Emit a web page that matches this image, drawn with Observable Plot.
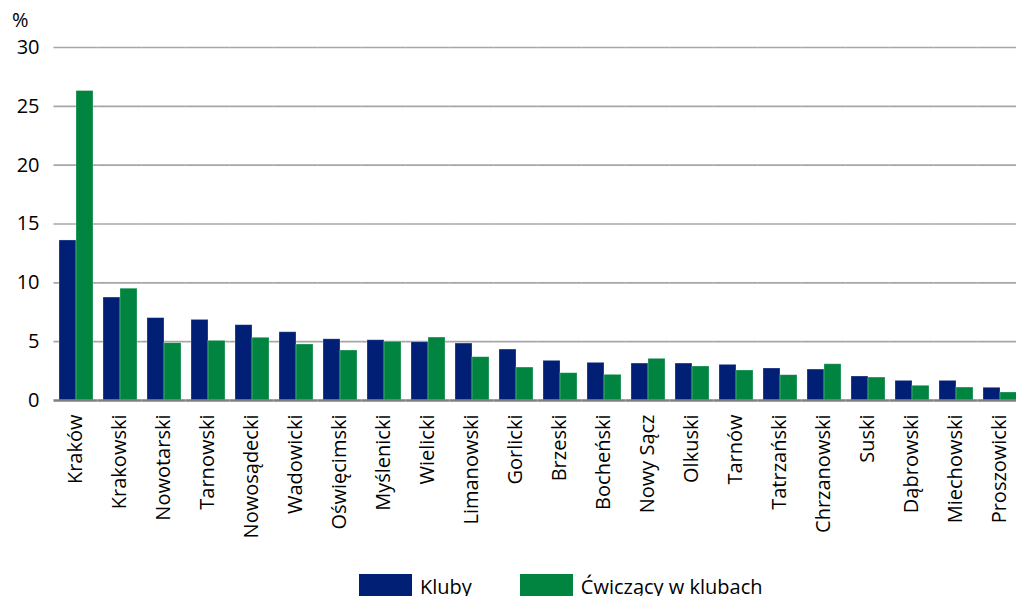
<!DOCTYPE html>
<html>
<head>
<meta charset="utf-8">
<script src="https://cdn.jsdelivr.net/npm/d3@7"></script>
<script src="https://cdn.jsdelivr.net/npm/@observablehq/plot@0.6"></script>
<style>
  html, body { margin: 0; padding: 0; background: #fff; overflow: hidden; }
  body { width: 1016px; height: 596px; position: relative; font-family: "Open Sans", sans-serif; }
  #unit { position: absolute; left: 12px; top: 6px; font-size: 20px; color: #000; }
  #legend { position: absolute; left: 359px; top: 573px; display: flex; align-items: center; font-size: 20px; color: #000; }
  .item { display: flex; align-items: center; margin-right: 48px; }
  .sw { width: 53px; height: 25px; margin-right: 8px; }
</style>
</head>
<body>
<div id="chart"></div>
<div id="unit">%</div>
<div id="legend"></div>
<script>
const districts = ["Kraków", "Krakowski", "Nowotarski", "Tarnowski", "Nowosądecki", "Wadowicki", "Oświęcimski", "Myślenicki", "Wielicki", "Limanowski", "Gorlicki", "Brzeski", "Bocheński", "Nowy Sącz", "Olkuski", "Tarnów", "Tatrzański", "Chrzanowski", "Suski", "Dąbrowski", "Miechowski", "Proszowicki"];
const kluby = [13.6, 8.75, 7.0, 6.85, 6.4, 5.8, 5.2, 5.12, 4.95, 4.84, 4.33, 3.37, 3.2, 3.14, 3.14, 3.03, 2.72, 2.63, 2.04, 1.67, 1.67, 1.08];
const cwiczacy = [26.3, 9.5, 4.87, 5.07, 5.33, 4.76, 4.25, 4.99, 5.35, 3.68, 2.8, 2.32, 2.18, 3.54, 2.89, 2.55, 2.15, 3.08, 1.95, 1.25, 1.1, 0.68];
const seriesNames = ["Kluby", "Ćwiczący w klubach"];
const seriesColors = ["#001f75", "#00843f"];
const yTicks = [0, 5, 10, 15, 20, 25, 30];

const rows = [];
districts.forEach((d, i) => {
  rows.push({district: d, series: seriesNames[0], value: kluby[i]});
  rows.push({district: d, series: seriesNames[1], value: cwiczacy[i]});
});

const chart = Plot.plot({
  width: 1016,
  height: 565,
  marginTop: 47,
  marginBottom: 165,
  marginLeft: 52,
  marginRight: -8.4,
  style: {fontSize: "20px", fontFamily: "Open Sans, sans-serif", color: "#000", background: "white", maxWidth: "none"},
  fx: {domain: districts, paddingInner: 0.195, paddingOuter: 0.097, label: null, axis: null},
  x: {domain: seriesNames, padding: 0, axis: null},
  y: {domain: [0, 30], axis: null},
  color: {domain: seriesNames, range: seriesColors},
  marks: [
    Plot.ruleY(yTicks.filter(t => t > 0), {stroke: "#a6a6a6", strokeWidth: 1.6, insetLeft: -4.5, insetRight: -4.5}),
    Plot.barY(rows, {fx: "district", x: "series", y: "value", fill: "series", stroke: "#ffffff", strokeOpacity: 0.35, strokeWidth: 0.8}),
    Plot.ruleY([0], {stroke: "#7f7f7f", strokeWidth: 2.5, insetLeft: -4.5, insetRight: -4.5}),
    Plot.axisY(yTicks, {tickSize: 0, tickPadding: 19, anchor: "left", label: null, fontSize: 20}),
    Plot.axisFx({anchor: "bottom", tickRotate: -90, tickSize: 0, tickPadding: 14, label: null, fontSize: 20})
  ]
});
document.getElementById("chart").appendChild(chart);

const legend = document.getElementById("legend");
seriesNames.forEach((s, i) => {
  const item = document.createElement("div");
  item.className = "item";
  const sw = document.createElement("div");
  sw.className = "sw";
  sw.style.background = seriesColors[i];
  const t = document.createElement("span");
  t.textContent = s;
  item.appendChild(sw);
  item.appendChild(t);
  legend.appendChild(item);
});
</script>
</body>
</html>
